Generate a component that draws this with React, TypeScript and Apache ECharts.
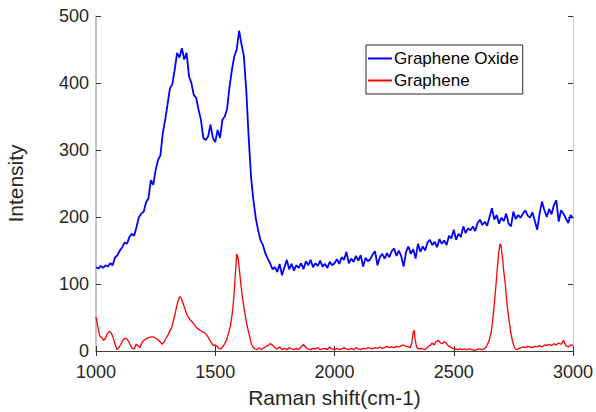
import React, { useEffect, useRef } from "react";
import * as echarts from "echarts";

// Graphene Oxide: intensity sampled every 10 cm-1 from 1000 to 3000
const goStart = 1000;
const goStep = 10;
const goIntensity = [
  125, 123, 127, 124, 128, 126, 131, 128, 140, 143, 150,
  155, 162, 160, 170, 175, 172, 185, 200, 205, 208,
  222, 228, 255, 248, 270, 285, 292, 325, 345, 368,
  392, 398, 420, 445, 438, 452, 435, 445, 410, 400,
  382, 378, 360, 345, 318, 315, 320, 338, 318, 312,
  330, 318, 345, 350, 362, 395, 420, 440, 450, 478,
  458, 440, 390, 320, 260, 225, 198, 180, 165, 158,
  146, 138, 131, 122, 125, 118, 130, 113, 125, 136,
  122, 130, 120, 128, 124, 131, 122, 134, 128, 136,
  125, 131, 127, 135, 126, 130, 124, 133, 128, 131,
  137, 130, 140, 136, 148, 131, 138, 133, 142, 135,
  143, 126, 139, 134, 137, 144, 149, 128, 140, 145,
  138, 146, 140, 149, 153, 142, 150, 141, 126, 148,
  156, 145, 152, 138, 160, 148, 156, 150, 162, 166,
  158, 163, 155, 167, 160, 165, 158, 172, 168, 181,
  166, 175, 170, 186, 176, 183, 180, 186, 179, 191,
  196, 188, 193, 187, 200, 213, 196, 203, 190, 199,
  194, 205, 190, 186, 208, 197, 203, 199, 205, 210,
  202, 199, 207, 194, 181, 205, 223, 210, 200, 212,
  204, 218, 225, 193, 210, 205, 198, 191, 203, 198,
];

// Graphene
const grShift = [
  1000, 1008, 1016, 1024, 1032, 1040, 1048, 1056, 1064, 1072, 1080, 1088, 1096, 1104, 1112, 1120, 1128, 1136, 1144, 1152,
  1160, 1168, 1176, 1184, 1192, 1200, 1210, 1220, 1230, 1240, 1250, 1260, 1270, 1278, 1286, 1294, 1302, 1310, 1318, 1326,
  1334, 1342, 1350, 1356, 1362, 1368, 1374, 1380, 1388, 1396, 1404, 1412, 1420, 1428, 1436, 1444, 1452, 1460, 1468, 1476,
  1484, 1492, 1500, 1508, 1516, 1524, 1532, 1540, 1548, 1556, 1564, 1572, 1578, 1584, 1590, 1596, 1602, 1608, 1614, 1620,
  1628, 1636, 1644, 1652, 1660, 1668, 1676, 1684, 1692, 1700, 1710, 1720, 1730, 1740, 1750, 1760, 1770, 1780, 1790, 1800,
  1810, 1820, 1830, 1840, 1850, 1860, 1870, 1880, 1890, 1900, 1910, 1920, 1930, 1940, 1950, 1960, 1970, 1980, 1990, 2000,
  2010, 2020, 2030, 2040, 2050, 2060, 2070, 2080, 2090, 2100, 2110, 2120, 2130, 2140, 2150, 2160, 2170, 2180, 2190, 2200,
  2210, 2220, 2230, 2240, 2250, 2260, 2270, 2280, 2290, 2300, 2310, 2318, 2324, 2330, 2334, 2338, 2344, 2352, 2362, 2372,
  2380, 2390, 2400, 2410, 2418, 2426, 2436, 2444, 2452, 2460, 2468, 2476, 2486, 2496, 2506, 2516, 2526, 2536, 2546, 2556,
  2566, 2576, 2586, 2596, 2606, 2616, 2626, 2634, 2642, 2650, 2658, 2664, 2670, 2676, 2682, 2688, 2694, 2698, 2704, 2710,
  2716, 2722, 2728, 2734, 2740, 2746, 2752, 2758, 2766, 2774, 2782, 2790, 2800, 2810, 2820, 2830, 2840, 2850, 2860, 2870,
  2880, 2890, 2900, 2910, 2920, 2930, 2940, 2950, 2960, 2970, 2980, 2990, 3000,
];
const grIntensity = [
  51, 35, 22, 20, 16, 19, 26, 29, 27, 20, 10, 2, 5, 10, 16, 19, 18, 15, 9, 4,
  3, 10, 8, 5, 12, 16, 18, 20, 21, 21, 19, 17, 13, 10, 14, 19, 24, 30, 36, 47,
  60, 72, 81, 80, 74, 68, 62, 55, 50, 46, 43, 40, 35, 33, 31, 29, 28, 26, 22, 17,
  12, 8, 9, 7, 4, 3, 7, 11, 17, 27, 38, 58, 80, 112, 145, 138, 118, 98, 80, 66,
  48, 34, 22, 10, 5, 3, 2, 5, 2, 4, 6, 8, 11, 9, 5, 3, 6, 2, 4, 2,
  5, 3, 2, 4, 2, 6, 10, 5, 3, 2, 4, 3, 5, 2, 3, 4, 2, 6, 3, 2,
  4, 2, 3, 5, 3, 2, 4, 2, 5, 3, 2, 4, 3, 5, 4, 3, 5, 4, 6, 4,
  5, 7, 5, 6, 5, 7, 6, 8, 9, 7, 6, 5, 12, 28, 31, 18, 6, 3, 4, 3,
  2, 6, 8, 12, 9, 14, 16, 12, 11, 14, 12, 8, 6, 4, 3, 2, 3, 2, 3, 2,
  3, 2, 1, 2, 3, 2, 3, 5, 10, 18, 30, 48, 70, 94, 120, 145, 160, 158, 140, 118,
  100, 75, 56, 40, 26, 15, 8, 3, 2, 4, 5, 6, 5, 7, 6, 5, 7, 6, 8, 6,
  9, 8, 10, 8, 11, 9, 12, 10, 16, 8, 6, 9, 8,
];

const xTicks = [1000, 1500, 2000, 2500, 3000];
const yTicks = [0, 100, 200, 300, 400, 500];

const FONT = "'Liberation Sans', Arial, Helvetica, sans-serif";
const TXT = "#262626";

export default function App() {
  const ref = useRef<HTMLDivElement>(null);
  useEffect(() => {
    if (!ref.current) return;
    document.body.style.margin = "0";
    const chart = echarts.init(ref.current, undefined, { renderer: "svg" });
    const goData = goIntensity.map((v, i) => [goStart + i * goStep, v]);
    const grData = grShift.map((x, i) => [x, grIntensity[i]]);
    const xMin = xTicks[0];
    const xMax = xTicks[xTicks.length - 1];
    const xInt = xTicks[1] - xTicks[0];
    const yMin = yTicks[0];
    const yMax = yTicks[yTicks.length - 1];
    const yInt = yTicks[1] - yTicks[0];
    const tick = { show: true, inside: true, length: 5, lineStyle: { color: "#333", width: 1 } };
    const plain = (v: number) => String(v);
    chart.setOption({
      animation: false,
      backgroundColor: "#ffffff",
      textStyle: { fontFamily: FONT },
      grid: { left: 96, right: 23, top: 16, bottom: 61, containLabel: false, outerBoundsMode: "none" },
      legend: {
        orient: "vertical",
        left: 366,
        top: 45,
        padding: [5, 4, 5, 2],
        itemGap: 5,
        itemWidth: 24,
        itemHeight: 2,
        icon: "rect",
        backgroundColor: "#ffffff",
        borderColor: "#262626",
        borderWidth: 1,
        borderRadius: 0,
        textStyle: { fontSize: 17, color: "#000", fontFamily: FONT, padding: [0, 0, 0, -3] },
        data: ["Graphene Oxide", "Graphene"],
      },
      xAxis: [
        {
          type: "value",
          min: xMin,
          max: xMax,
          interval: xInt,
          position: "bottom",
          name: "Raman shift(cm-1)",
          nameLocation: "middle",
          nameGap: 36,
          nameTextStyle: { fontSize: 21, color: TXT, fontFamily: FONT },
          axisLine: { show: true, lineStyle: { color: "#a8a8a8", width: 1 } },
          axisTick: tick,
          axisLabel: { fontSize: 18, color: TXT, margin: 12, fontFamily: FONT, formatter: plain },
          splitLine: { show: false },
        },
        {
          type: "value",
          min: xMin,
          max: xMax,
          interval: xInt,
          position: "top",
          axisLine: { show: true, lineStyle: { color: "#444", width: 1 } },
          axisTick: tick,
          axisLabel: { show: false },
          splitLine: { show: false },
        },
      ],
      yAxis: [
        {
          type: "value",
          min: yMin,
          max: yMax,
          interval: yInt,
          position: "left",
          name: "Intensity",
          nameLocation: "middle",
          nameGap: 70,
          nameTextStyle: { fontSize: 21, color: TXT, fontFamily: FONT },
          axisLine: { show: true, lineStyle: { color: "#b0b0b0", width: 1.5 } },
          axisTick: tick,
          axisLabel: { fontSize: 18, color: TXT, margin: 7, fontFamily: FONT, formatter: plain },
          splitLine: { show: false },
        },
        {
          type: "value",
          min: yMin,
          max: yMax,
          interval: yInt,
          position: "right",
          axisLine: { show: true, lineStyle: { color: "#c8c8c8", width: 1 } },
          axisTick: tick,
          axisLabel: { show: false },
          splitLine: { show: false },
        },
      ],
      series: [
        {
          name: "Graphene Oxide",
          type: "line",
          data: goData,
          symbol: "none",
          showSymbol: false,
          color: "#0000ff",
          lineStyle: { color: "#0000ff", width: 1.8 },
          xAxisIndex: 0,
          yAxisIndex: 0,
        },
        {
          name: "Graphene",
          type: "line",
          data: grData,
          symbol: "none",
          showSymbol: false,
          color: "#ff0000",
          lineStyle: { color: "#ff0000", width: 1.3 },
          xAxisIndex: 0,
          yAxisIndex: 0,
        },
      ],
    });
    return () => chart.dispose();
  }, []);
  return <div ref={ref} style={{ width: 596, height: 412 }} />;
}
